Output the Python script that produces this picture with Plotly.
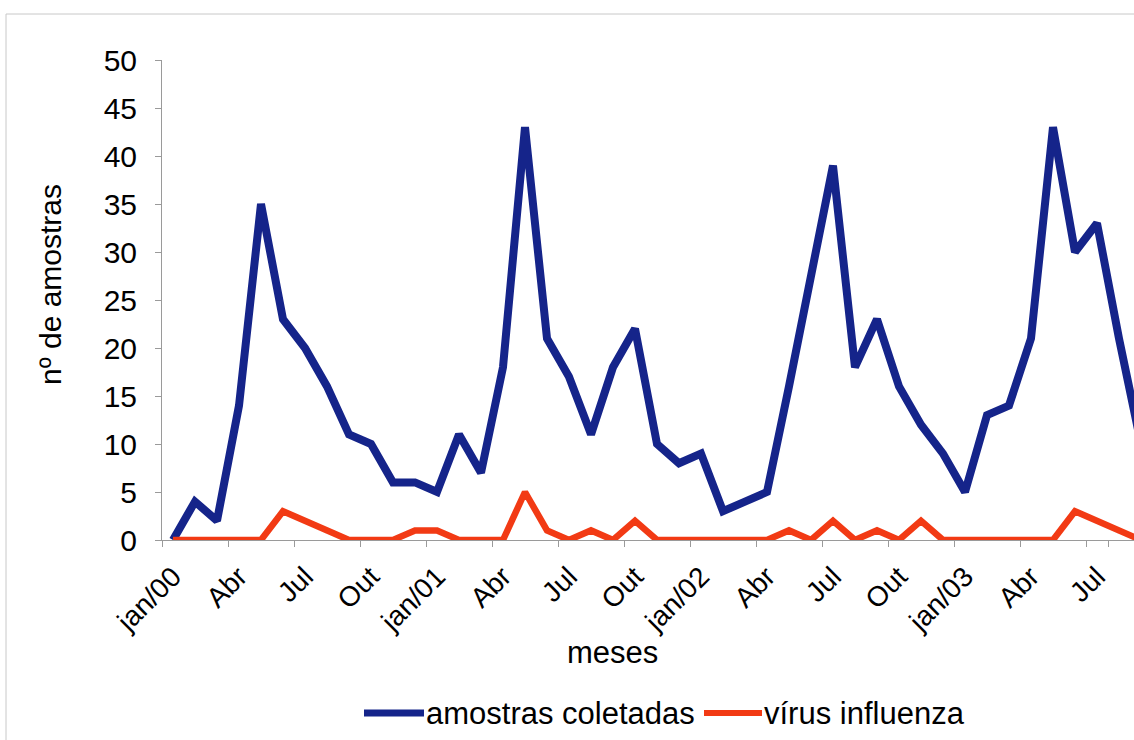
import plotly.graph_objects as go

# Months (categories), jan/2000 .. set/2003
month_abbr = ["jan", "fev", "mar", "abr", "mai", "jun", "jul", "ago", "set", "out", "nov", "dez"]
months = [f"{m}/{y:02d}" for y in range(0, 4) for m in month_abbr][:45]

amostras_coletadas = [0, 4, 2, 14, 35, 23, 20, 16, 11, 10, 6, 6,
                      5, 11, 7, 18, 43, 21, 17, 11, 18, 22, 10, 8,
                      9, 3, 4, 5, 16, 27, 39, 18, 23, 16, 12, 9,
                      5, 13, 14, 21, 43, 30, 33, 21, 10]
virus_influenza = [0, 0, 0, 0, 0, 3, 2, 1, 0, 0, 0, 1,
                   1, 0, 0, 0, 5, 1, 0, 1, 0, 2, 0, 0,
                   0, 0, 0, 0, 1, 0, 2, 0, 1, 0, 2, 0,
                   0, 0, 0, 0, 0, 3, 2, 1, 0]

tick_positions = months[::3]
tick_text = ["jan/00", "Abr", "Jul", "Out", "jan/01", "Abr", "Jul", "Out",
             "jan/02", "Abr", "Jul", "Out", "jan/03", "Abr", "Jul"]
y_ticks = [0, 5, 10, 15, 20, 25, 30, 35, 40, 45, 50]

BLUE = "#15248a"
RED = "#f23a14"
FONT = "Liberation Sans, Arial, sans-serif"

fig = go.Figure()
fig.add_trace(go.Scatter(x=months, y=amostras_coletadas, mode="lines",
                         name="amostras coletadas",
                         line=dict(color=BLUE, width=8)))
fig.add_trace(go.Scatter(x=months, y=virus_influenza, mode="lines",
                         name="vírus influenza",
                         line=dict(color=RED, width=6.5)))

W, H = 1134, 740
L, R, T, B = 162, 0, 60, 200
pw, ph = W - L - R, H - T - B

def px(x):
    return (x - L) / pw

def py(y):
    return (H - B - y) / ph

fig.update_layout(
    width=W, height=H,
    margin=dict(l=L, r=R, t=T, b=B),
    paper_bgcolor="white", plot_bgcolor="white",
    showlegend=False,
    font=dict(family=FONT, color="black"),
    xaxis=dict(
        type="category",
        range=[-0.5, (W - L) / 22 - 0.5],
        tickmode="array", tickvals=tick_positions, ticktext=tick_text,
        tickson="boundaries",
        ticks="outside", ticklen=6, tickcolor="#9a9a9a",
        tickangle=-45, tickfont=dict(size=28, family=FONT),
        ticklabelstandoff=8,
        showline=True, linecolor="#9a9a9a", linewidth=1,
        showgrid=False, zeroline=False,
    ),
    yaxis=dict(
        range=[0, 50],
        tickmode="array", tickvals=y_ticks,
        ticks="outside", ticklen=6, tickcolor="#9a9a9a",
        tickfont=dict(size=30, family=FONT),
        ticklabelstandoff=12,
        showline=True, linecolor="#9a9a9a", linewidth=1,
        showgrid=False, zeroline=False,
    ),
)

# axis titles
fig.add_annotation(text="nº de amostras", xref="paper", yref="paper",
                   x=px(50), y=py(285), textangle=-90, showarrow=False,
                   font=dict(size=30, family=FONT), xanchor="center", yanchor="middle")
fig.add_annotation(text="meses", xref="paper", yref="paper",
                   x=px(612), y=py(652), showarrow=False,
                   font=dict(size=31, family=FONT), xanchor="center", yanchor="middle")

# legend (drawn manually to match the long line keys)
ly = py(713)
fig.add_shape(type="line", xref="paper", yref="paper", x0=px(364), x1=px(424), y0=ly, y1=ly,
              line=dict(color=BLUE, width=7))
fig.add_annotation(text="amostras coletadas", xref="paper", yref="paper",
                   x=px(424), y=ly, showarrow=False, xanchor="left", yanchor="middle",
                   font=dict(size=31, family=FONT))
fig.add_shape(type="line", xref="paper", yref="paper", x0=px(704), x1=px(762), y0=ly, y1=ly,
              line=dict(color=RED, width=6))
fig.add_annotation(text="vírus influenza", xref="paper", yref="paper",
                   x=px(762), y=ly, showarrow=False, xanchor="left", yanchor="middle",
                   font=dict(size=31, family=FONT))

# chart frame
fig.add_shape(type="rect", xref="paper", yref="paper",
              x0=px(6), x1=px(1150), y0=py(760), y1=py(14),
              line=dict(color="#c8c8c8", width=1), layer="below")

fig.write_html("out.html")
